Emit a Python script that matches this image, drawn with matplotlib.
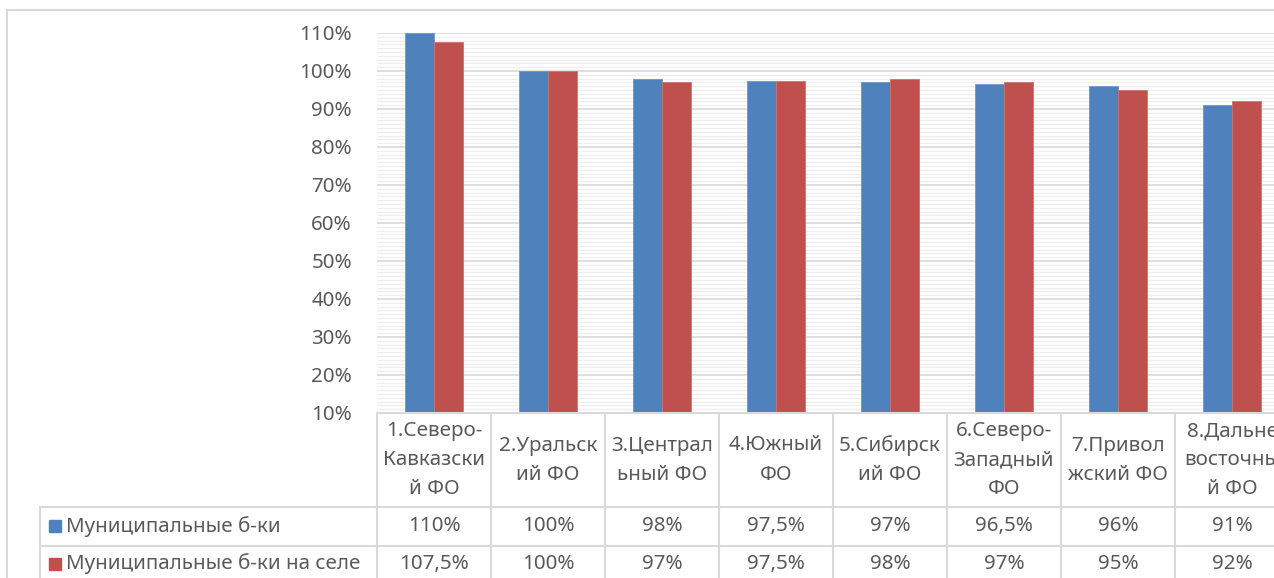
import numpy as np
import matplotlib
matplotlib.use("Agg")
import matplotlib.pyplot as plt
from matplotlib import transforms
from matplotlib.lines import Line2D
from matplotlib.patches import Rectangle
from matplotlib.ticker import MultipleLocator, PercentFormatter

plt.rcParams['font.family'] = ['Noto Sans', 'DejaVu Sans']

# data
categories = ["1.Северо-\nКавказски\nй ФО", "2.Уральск\nий ФО", "3.Централ\nьный ФО",
              "4.Южный\nФО", "5.Сибирск\nий ФО", "6.Северо-\nЗападный\nФО",
              "7.Привол\nжский ФО", "8.Дальне\nвосточны\nй ФО"]
series_names = ["Муниципальные б-ки", "Муниципальные б-ки на селе"]
municipal = [110, 100, 98, 97.5, 97, 96.5, 96, 91]
rural = [107.5, 100, 97, 97.5, 98, 97, 95, 92]

colors = ['#4F81BD', '#C0504D']
txt = '#595959'
grid_c = '#D9D9D9'
fs = 14.8

W, H = 1274, 578
fig = plt.figure(figsize=(W / 100, H / 100), dpi=100)

def fx(px):
    return px / W

def fy(py):
    return 1 - py / H

# plot area in pixels
left, right, top, bottom = 377, 377 + 114 * 8, 33, 413
ax = fig.add_axes([fx(left), fy(bottom), fx(right - left), (bottom - top) / H])

x = np.arange(len(categories))
bw = 0.255
ax.bar(x - bw / 2, municipal, bw, color=colors[0], edgecolor='#6E97CB', linewidth=0.6, zorder=3)
ax.bar(x + bw / 2, rural, bw, color=colors[1], edgecolor='#CD7371', linewidth=0.6, zorder=3)

ax.set_xlim(-0.5, len(categories) - 0.5)
ax.set_ylim(10, 110)
ax.yaxis.set_major_locator(MultipleLocator(10))
ax.yaxis.set_minor_locator(MultipleLocator(1))
ax.yaxis.set_major_formatter(PercentFormatter(decimals=0))
ax.grid(axis='y', which='major', color=grid_c, linewidth=1.2, zorder=1)
ax.grid(axis='y', which='minor', color='#EEEEEE', linewidth=0.9, zorder=0)
ax.set_xticks([])
ax.tick_params(axis='y', which='both', length=0, pad=18, labelsize=fs, labelcolor=txt)
for s in ax.spines.values():
    s.set_visible(False)

# outer chart border
fig.add_artist(Line2D([fx(7), 1], [fy(10), fy(10)], color=grid_c, lw=1.5))
fig.add_artist(Line2D([fx(7), fx(7)], [fy(10), 0], color=grid_c, lw=1.5))

# data table
bt = transforms.blended_transform_factory(ax.transData, fig.transFigure)
row1, row2, row3 = 507, 545.5, 584
line_kw = dict(color=grid_c, lw=1.5)
fig.add_artist(Line2D([fx(left), 1], [fy(bottom), fy(bottom)], **line_kw))
for yy in (row1, row2):
    fig.add_artist(Line2D([fx(40), 1], [fy(yy), fy(yy)], **line_kw))
fig.add_artist(Line2D([fx(40), fx(40)], [fy(row1), 0], **line_kw))
for i in range(len(categories) + 1):
    fig.add_artist(Line2D([i - 0.5, i - 0.5], [fy(bottom), 0], transform=bt, **line_kw))

def fmt(v):
    return ('%g' % v).replace('.', ',') + '%'

for i, cat in enumerate(categories):
    fig.text(i, fy((bottom + row1) / 2), cat, transform=bt, ha='center', va='center',
             fontsize=fs, color=txt, linespacing=1.6)
    fig.text(i, fy((row1 + row2) / 2), fmt(municipal[i]), transform=bt, ha='center',
             va='center', fontsize=fs, color=txt)
    fig.text(i, fy((row2 + row3) / 2 - 1), fmt(rural[i]), transform=bt, ha='center',
             va='center', fontsize=fs, color=txt)

for k, (name, c) in enumerate(zip(series_names, colors)):
    yc = (row1 + row2) / 2 if k == 0 else (row2 + row3) / 2 - 1
    fig.add_artist(Rectangle((fx(49), fy(yc + 6)), fx(12), 12 / H, color=c))
    fig.text(fx(66), fy(yc), name, ha='left', va='center', fontsize=fs, color=txt)

fig.savefig('out.png', dpi=100)
